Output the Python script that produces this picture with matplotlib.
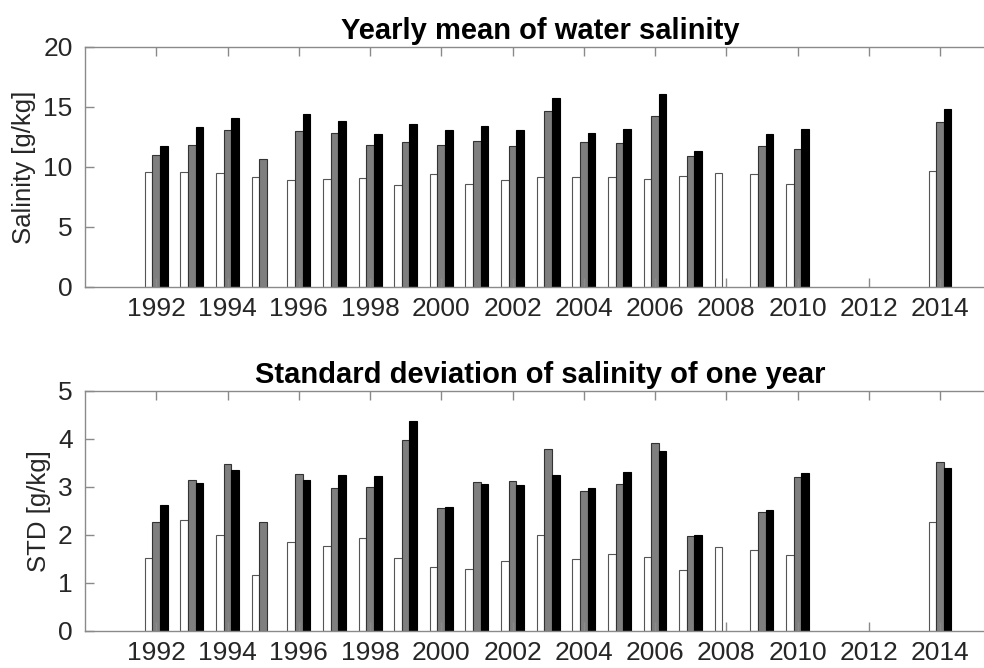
import numpy as np
import matplotlib
matplotlib.use("Agg")
import matplotlib.pyplot as plt

plt.rcParams['font.family'] = ['Liberation Sans', 'DejaVu Sans']

years = np.arange(1992, 2015)
nan = np.nan

# yearly mean salinity, three series (white, gray, black)
mean_white = [9.56, 9.58, 9.53, 9.2, 8.92, 9.03, 9.11, 8.47, 9.39, 8.61, 8.92, 9.2,
              9.17, 9.2, 8.97, 9.28, 9.5, 9.39, 8.58, nan, nan, nan, 9.7]
mean_gray = [11.0, 11.86, 13.05, 10.67, 12.97, 12.86, 11.86, 12.05, 11.83, 12.14, 11.75, 14.67,
             12.11, 12.0, 14.25, 10.92, nan, 11.78, 11.47, nan, nan, nan, 13.72]
mean_black = [11.75, 13.3, 14.1, nan, 14.45, 13.86, 12.78, 13.6, 13.1, 13.42, 13.08, 15.72,
              12.86, 13.17, 16.06, 11.36, nan, 12.72, 13.17, nan, nan, nan, 14.86]

# standard deviation of salinity within the year
std_white = [1.53, 2.32, 2.01, 1.16, 1.85, 1.78, 1.94, 1.53, 1.33, 1.30, 1.45, 2.01,
             1.51, 1.60, 1.55, 1.28, 1.74, 1.68, 1.58, nan, nan, nan, 2.27]
std_gray = [2.27, 3.14, 3.47, 2.27, 3.27, 2.97, 3.01, 3.97, 2.56, 3.10, 3.12, 3.79,
            2.92, 3.07, 3.92, 1.97, nan, 2.47, 3.21, nan, nan, nan, 3.52]
std_black = [2.63, 3.08, 3.36, nan, 3.14, 3.25, 3.22, 4.38, 2.59, 3.06, 3.05, 3.26,
             2.97, 3.31, 3.76, 2.01, nan, 2.52, 3.30, nan, nan, nan, 3.40]

fig = plt.figure(figsize=(9.84, 6.68), dpi=100)
ax1 = fig.add_axes([0.0864, 0.5704, 0.925, 0.3593])
ax2 = fig.add_axes([0.0864, 0.0554, 0.925, 0.3593])

axis_col = '#8a8a8a'
text_col = '#262626'
w = 0.215


def draw(ax, white, gray, black, ylim, yticks, ylabel, title):
    ax.bar(years - w, white, w, color='white', edgecolor='#555555', linewidth=0.8)
    ax.bar(years, gray, w, color='#7f7f7f', edgecolor='#333333', linewidth=0.8)
    ax.bar(years + w, black, w, color='black', edgecolor='black', linewidth=0.8)
    ax.set_xlim(1990, 2015.55)
    ax.set_ylim(*ylim)
    ax.set_xticks(np.arange(1992, 2015, 2))
    ax.set_yticks(yticks)
    ax.tick_params(direction='in', length=6.5, width=1, colors=axis_col,
                   labelcolor=text_col, labelsize=19, top=True, right=True)
    ax.tick_params(axis='x', pad=7)
    ax.tick_params(axis='y', pad=9)
    for s in ax.spines.values():
        s.set_color(axis_col)
        s.set_linewidth(1)
    ax.set_ylabel(ylabel, fontsize=18.5, color=text_col, labelpad=5)
    ax.set_title(title, fontsize=21, fontweight='bold', pad=6)


draw(ax1, mean_white, mean_gray, mean_black, (0, 20), [0, 5, 10, 15, 20],
     'Salinity [g/kg]', 'Yearly mean of water salinity')
draw(ax2, std_white, std_gray, std_black, (0, 5), [0, 1, 2, 3, 4, 5],
     'STD [g/kg]', 'Standard deviation of salinity of one year')

fig.savefig('out.png', dpi=100)
